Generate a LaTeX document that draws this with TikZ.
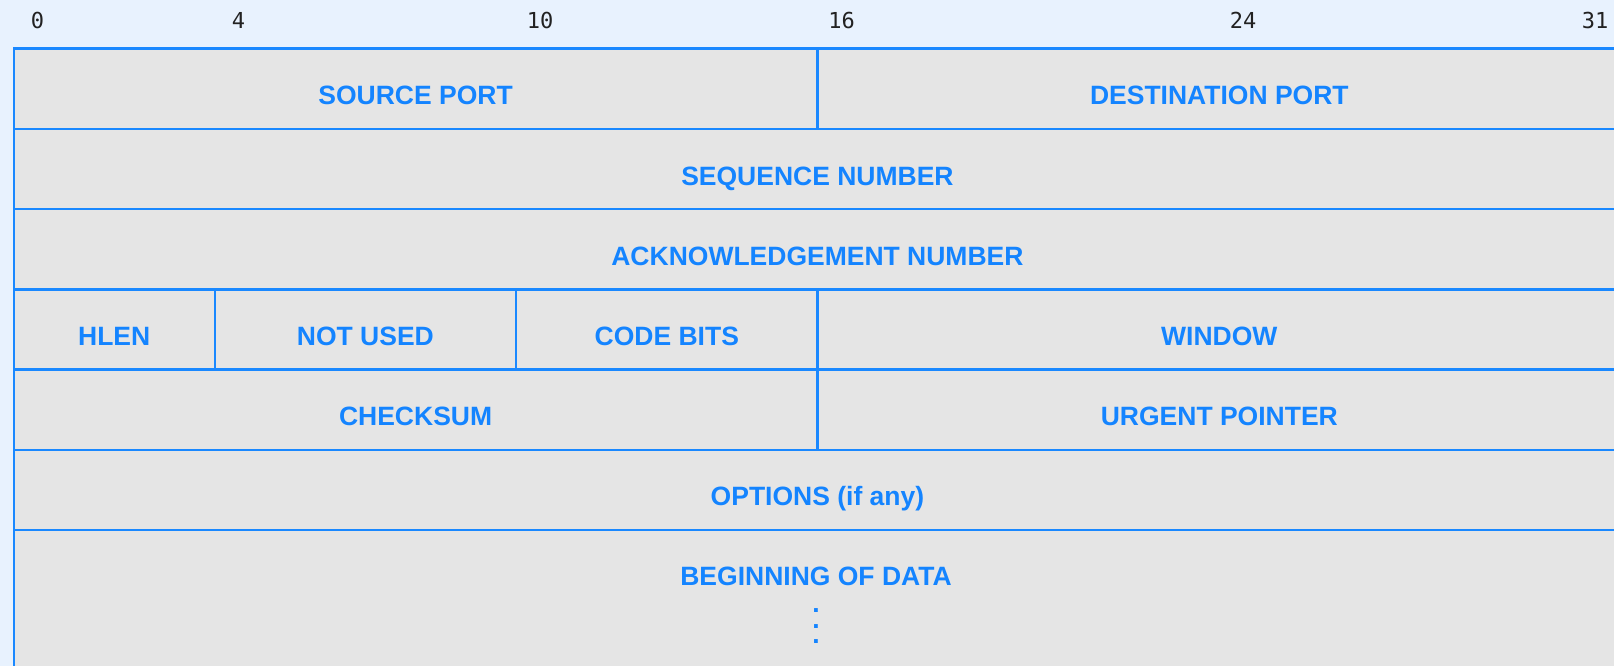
\documentclass[tikz,border=0pt]{standalone}
\usepackage{fontspec}
\setmainfont{Liberation Sans}
\newfontfamily\numfont{DejaVu Sans Mono}
\definecolor{bgblue}{HTML}{E8F2FE}
\definecolor{cellgray}{HTML}{E5E5E5}
\definecolor{lineblue}{HTML}{1A88FF}
\definecolor{textblue}{HTML}{1484FF}
\definecolor{numcol}{HTML}{222222}
\begin{document}
\begin{tikzpicture}[x=1pt,y=-1pt,
  cell/.style={draw=lineblue, line width=2.4pt, fill=cellgray, anchor=north west,
    inner sep=0pt, minimum height=80.2pt, text height=32pt, text depth=0pt,
    font=\bfseries\fontsize{26.5}{30}\selectfont, text=textblue},
  bitnum/.style={anchor=base, font=\numfont\fontsize{22}{24}\selectfont, text=numcol, inner sep=0pt},
  fieldtext/.style={font=\bfseries\fontsize{26.5}{30}\selectfont, text=textblue, inner sep=0pt}]
\useasboundingbox (0,0) rectangle (1614,666);
\fill[bgblue] (0,0) rectangle (1614,666);
\clip (0,0) rectangle (1614,666);
% bit numbers
\node[bitnum] (b0) at (37.6,29) {0};
\node[bitnum] (b4) at (238.5,29) {4};
\node[bitnum] (b10) at (540,29) {10};
\node[bitnum] (b16) at (841.5,29) {16};
\node[bitnum] (b24) at (1243,29) {24};
\node[bitnum] (b31) at (1595,29) {31};
% row 0
\node[cell, minimum width=803.8pt] (src) at (12.5,47.5) {SOURCE PORT};
\node[cell, minimum width=803.7pt] (dst) at (816.3,47.5) {DESTINATION PORT};
% row 1
\node[cell, minimum width=1607.5pt] (seq) at (12.5,127.7) {SEQUENCE NUMBER};
% row 2
\node[cell, minimum width=1607.5pt] (ack) at (12.5,207.9) {ACKNOWLEDGEMENT NUMBER};
% row 3
\node[cell, minimum width=201pt] (hlen) at (12.5,288.1) {HLEN};
\node[cell, minimum width=301.4pt] (notused) at (213.5,288.1) {NOT USED};
\node[cell, minimum width=301.4pt] (code) at (514.9,288.1) {CODE BITS};
\node[cell, minimum width=803.7pt] (win) at (816.3,288.1) {WINDOW};
% row 4
\node[cell, minimum width=803.8pt] (chk) at (12.5,368.3) {CHECKSUM};
\node[cell, minimum width=803.7pt] (urg) at (816.3,368.3) {URGENT POINTER};
% row 5
\node[cell, minimum width=1607.5pt] (opt) at (12.5,448.5) {OPTIONS (if any)};
% row 6
\node[cell, minimum width=1607.5pt, minimum height=200pt] (data) at (12.5,528.7) {};
\node[fieldtext, anchor=base] (datatext) at (816,585) {BEGINNING OF DATA};
\node[fieldtext] (dot1) at (816,611) {.};
\node[fieldtext] (dot2) at (816,627) {.};
\node[fieldtext] (dot3) at (816,642) {.};
\end{tikzpicture}
\end{document}
